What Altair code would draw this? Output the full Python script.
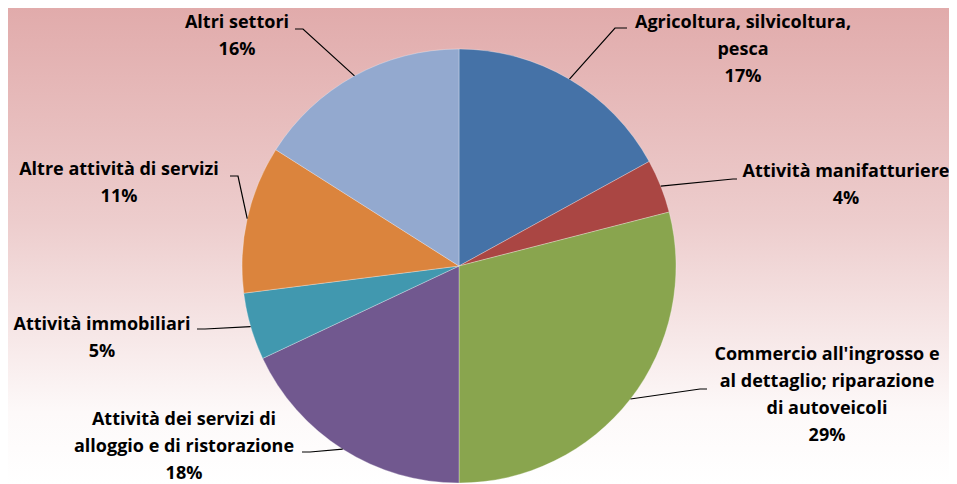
import math
import altair as alt
import pandas as pd

# ---------------- data ----------------
categories = [
    "Agricoltura, silvicoltura, pesca",
    "Attività manifatturiere",
    "Commercio all'ingrosso e al dettaglio; riparazione di autoveicoli",
    "Attività dei servizi di alloggio e di ristorazione",
    "Attività immobiliari",
    "Altre attività di servizi",
    "Altri settori",
]
shares = [17, 4, 29, 18, 5, 11, 16]
label_lines = [
    ["Agricoltura, silvicoltura,", "pesca"],
    ["Attività manifatturiere"],
    ["Commercio all'ingrosso e", "al dettaglio; riparazione", "di autoveicoli"],
    ["Attività dei servizi di", "alloggio e di ristorazione"],
    ["Attività immobiliari"],
    ["Altre attività di servizi"],
    ["Altri settori"],
]
colors = ["#4572A7", "#AA4643", "#89A54E", "#71588F", "#4198AF", "#DB843D", "#93A9CF"]

# ---------------- layout ----------------
W, H = 941, 476
CX, CY, R = 451, 258, 217
FONT = "Open Sans"
FS = 18
LH = 27
# first-line centre of each label (chart px), leader elbow and attach points (chart px)
label_center = [(735, 15), (838, 164), (819, 347), (176, 412), (94, 317), (111, 162), (229, 15)]
leader_elbow = [(607, 20), (725, 171), (692, 381), (302, 444), (197, 321), (230, 168), (295, 21)]
leader_attach = [(619, 20), (729, 171), (699, 381), (294, 444), (189, 321), (222, 168), (287, 21)]

pie_df = pd.DataFrame({"cat": categories, "share": shares, "idx": list(range(len(shares)))})

total = sum(shares)
lab_rows, lead_rows = [], []
cum = 0
for i, (cat, v) in enumerate(zip(categories, shares)):
    mid = (cum + v / 2) / total * 2 * math.pi
    cum += v
    ex, ey = CX + R * math.sin(mid), CY - R * math.cos(mid)
    txt = "\n".join(label_lines[i] + [f"{v}%"])
    lab_rows.append({"cat": cat, "x": label_center[i][0], "y": label_center[i][1], "txt": txt})
    for k, (px, py) in enumerate([(ex, ey), leader_elbow[i], leader_attach[i]]):
        lead_rows.append({"cat": cat, "k": k, "x": px, "y": py})
lab_df = pd.DataFrame(lab_rows)
lead_df = pd.DataFrame(lead_rows)

xs = alt.Scale(domain=[0, W], range=[0, W], nice=False, zero=False)
ys = alt.Scale(domain=[0, H], range=[0, H], nice=False, zero=False)

bg = alt.Chart(pd.DataFrame({"a": [0]})).mark_rect(
    color=alt.Gradient(
        gradient="linear",
        x1=0, y1=0, x2=0, y2=1,
        stops=[
            alt.GradientStop(offset=0, color="#E1ABAB"),
            alt.GradientStop(offset=0.45, color="#EDCDCD"),
            alt.GradientStop(offset=0.85, color="#FDF9F9"),
            alt.GradientStop(offset=1, color="#FFFFFF"),
        ],
    )
).encode(x=alt.value(0), x2=alt.value(W), y=alt.value(0), y2=alt.value(H))

pie = alt.Chart(pie_df).mark_arc(
    radius=R, stroke="#ffffff", strokeWidth=0.6, strokeOpacity=0.5
).encode(
    theta=alt.Theta("share:Q", stack=True),
    order=alt.Order("idx:Q"),
    color=alt.Color("cat:N", scale=alt.Scale(domain=categories, range=colors), legend=None),
    x=alt.value(CX),
    y=alt.value(CY),
)

leaders = alt.Chart(lead_df).mark_line(color="black", strokeWidth=1.2).encode(
    x=alt.X("x:Q", scale=xs, axis=None),
    y=alt.Y("y:Q", scale=ys, axis=None),
    detail="cat:N",
    order="k:Q",
)

labels = alt.Chart(lab_df).mark_text(
    font=FONT, fontSize=FS, fontWeight="bold", lineBreak="\n", lineHeight=LH,
    align="center", baseline="middle", color="black",
).encode(
    x=alt.X("x:Q", scale=xs, axis=None),
    y=alt.Y("y:Q", scale=ys, axis=None),
    text="txt:N",
)

chart = alt.layer(bg, pie, leaders, labels).properties(
    width=W, height=H, padding=0, autosize=alt.AutoSizeParams(type="none")
).configure_view(stroke=None).configure(background="#ffffff")

chart.save("out.html", embed_options={"renderer": "svg", "actions": False})
